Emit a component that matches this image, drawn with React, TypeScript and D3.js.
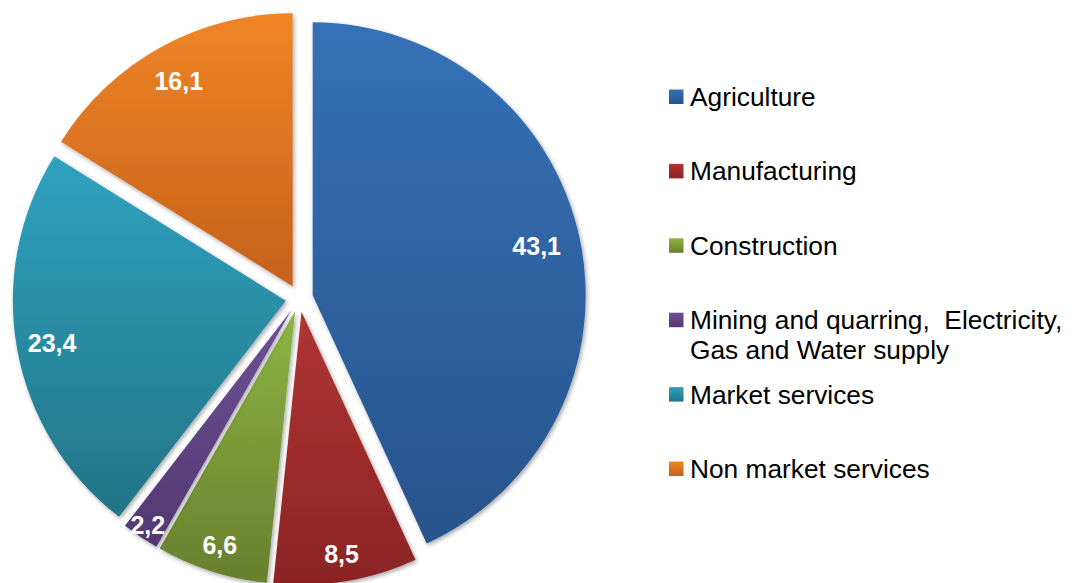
import React from "react";
import * as d3 from "d3";

const categories: string[] = [
  "Agriculture",
  "Manufacturing",
  "Construction",
  "Mining and quarring,  Electricity,|Gas and Water supply",
  "Market services",
  "Non market services",
];
const values: number[] = [43.1, 8.5, 6.6, 2.2, 23.4, 16.1];
const valueLabels: string[] = ["43,1", "8,5", "6,6", "2,2", "23,4", "16,1"];

const gradTop: string[] = ["#3571b7", "#b03533", "#8db542", "#6f5196", "#2fa2c0", "#f08527"];
const gradBottom: string[] = ["#28548c", "#8a2424", "#687f2e", "#523870", "#237485", "#c4611b"];

const W = 1072;
const H = 583;
const CX = 299.3;
const CY = 298.3;
const R = 273;
const EXPLODE = 13.7;
const labelFrac = [0.84, 0.9, 0.9, 0.95, 0.87, 0.86];

export default function App() {
  const pie = d3
    .pie<number>()
    .sort(null)
    .value((d) => d)
    .startAngle(0)
    .endAngle(2 * Math.PI);
  const arcs = pie(values);
  const arcGen = d3.arc<d3.PieArcDatum<number>>().innerRadius(0).outerRadius(R);

  return (
    <svg
      width={W}
      height={H}
      style={{ position: "absolute", left: 0, top: 0, background: "#fff" }}
    >
      <defs>
        {categories.map((_, i) => (
          <linearGradient key={i} id={`g${i}`} x1="0" y1="0" x2="0" y2="1">
            <stop offset="0%" stopColor={gradTop[i]} />
            <stop offset="100%" stopColor={gradBottom[i]} />
          </linearGradient>
        ))}
        <filter id="sh" x="-10%" y="-10%" width="120%" height="120%">
          <feDropShadow dx="1.5" dy="2" stdDeviation="2" floodColor="#000" floodOpacity="0.35" />
        </filter>
      </defs>
      {arcs.map((a, i) => {
        const mid = (a.startAngle + a.endAngle) / 2;
        const ox = Math.sin(mid) * EXPLODE;
        const oy = -Math.cos(mid) * EXPLODE;
        const lr = R * labelFrac[i];
        const lx = Math.sin(mid) * lr;
        const ly = -Math.cos(mid) * lr;
        return (
          <g key={i} transform={`translate(${CX + ox},${CY + oy})`}>
            <path d={arcGen(a) || ""} fill={`url(#g${i})`} filter="url(#sh)" />
            <text
              x={lx}
              y={ly}
              dy="0.36em"
              textAnchor="middle"
              fill="#fff"
              fontFamily="'Liberation Sans', Arial, sans-serif"
              fontWeight="bold"
              fontSize={25}
            >
              {valueLabels[i]}
            </text>
          </g>
        );
      })}
      {categories.map((c, i) => {
        const base = 106 + i * 74.4;
        const lines = c.split("|");
        return (
          <g key={`l${i}`}>
            <rect x={669} y={base - 16.5} width={14.5} height={14.5} fill={`url(#g${i})`} />
            <text
              x={690}
              y={base}
              fill="#000"
              fontFamily="'Liberation Sans', Arial, sans-serif"
              fontSize={26.3}
              style={{ whiteSpace: "pre" }}
            >
              {lines.map((ln, j) => (
                <tspan key={j} x={690} dy={j === 0 ? 0 : 30}>
                  {ln}
                </tspan>
              ))}
            </text>
          </g>
        );
      })}
    </svg>
  );
}
